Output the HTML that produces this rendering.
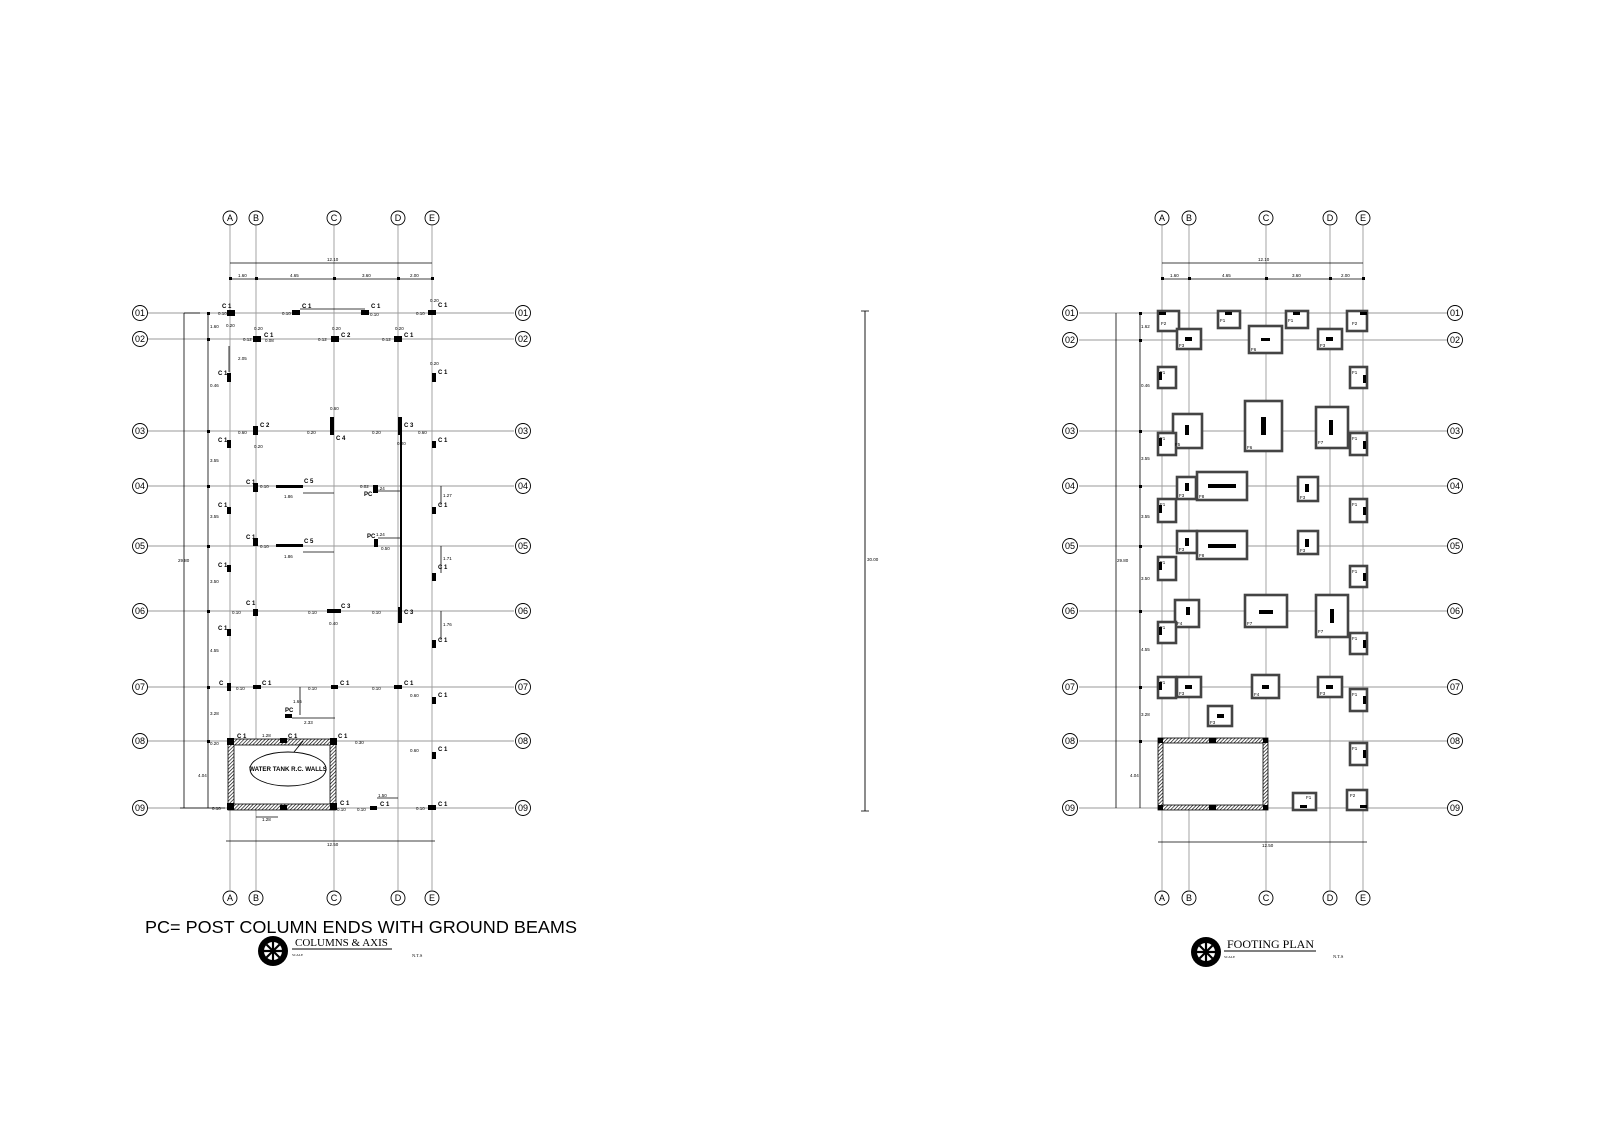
<!DOCTYPE html>
<html><head><meta charset="utf-8"><style>
html,body{margin:0;padding:0;background:#fff;}
svg{display:block;}
text{font-family:"Liberation Sans",sans-serif;}
.g{stroke:#9a9a9a;stroke-width:0.9;fill:none}
.d{stroke:#000;stroke-width:0.8;fill:none}
.ax{font-family:"Liberation Serif",serif;font-size:9px;text-anchor:middle}
.t{font-size:4.5px;fill:#000}
.c{font-size:6px;font-weight:bold;fill:#000}
.f{font-size:4.5px;fill:#000}
</style></head><body>
<svg width="1600" height="1131" viewBox="0 0 1600 1131" xmlns="http://www.w3.org/2000/svg">
<defs>
<pattern id="h" width="2.5" height="2.5" patternUnits="userSpaceOnUse" patternTransform="rotate(45)">
<rect width="2.5" height="2.5" fill="#fff"/><line x1="0" y1="0" x2="0" y2="2.5" stroke="#000" stroke-width="1.3"/></pattern>
</defs>

<!-- ================= LEFT PLAN ================= -->
<g>
<!-- vertical grid -->
<line class="g" x1="230" y1="226" x2="230" y2="890"/>
<line class="g" x1="256" y1="226" x2="256" y2="890"/>
<line class="g" x1="334" y1="226" x2="334" y2="890"/>
<line class="g" x1="398" y1="226" x2="398" y2="890"/>
<line class="g" x1="432" y1="226" x2="432" y2="890"/>
<!-- horizontal grid -->
<g class="g">
<line x1="148" y1="313" x2="514" y2="313"/><line x1="148" y1="339" x2="514" y2="339"/>
<line x1="148" y1="431" x2="514" y2="431"/><line x1="148" y1="486" x2="514" y2="486"/>
<line x1="148" y1="546" x2="514" y2="546"/><line x1="148" y1="611" x2="514" y2="611"/>
<line x1="148" y1="687" x2="514" y2="687"/><line x1="148" y1="741" x2="514" y2="741"/>
<line x1="148" y1="808" x2="514" y2="808"/>
</g>
<!-- axis circles -->
<g fill="#fff" stroke="#000" stroke-width="0.9">
<circle cx="230" cy="218" r="7"/><circle cx="256" cy="218" r="7"/><circle cx="334" cy="218" r="7"/><circle cx="398" cy="218" r="7"/><circle cx="432" cy="218" r="7"/>
<circle cx="230" cy="898" r="7"/><circle cx="256" cy="898" r="7"/><circle cx="334" cy="898" r="7"/><circle cx="398" cy="898" r="7"/><circle cx="432" cy="898" r="7"/>
</g>
<g class="ax">
<text x="230" y="221">A</text><text x="256" y="221">B</text><text x="334" y="221">C</text><text x="398" y="221">D</text><text x="432" y="221">E</text>
<text x="230" y="901">A</text><text x="256" y="901">B</text><text x="334" y="901">C</text><text x="398" y="901">D</text><text x="432" y="901">E</text>
</g>
<g fill="#fff" stroke="#000" stroke-width="0.9">
<circle cx="140" cy="313" r="7.5"/><circle cx="140" cy="339" r="7.5"/><circle cx="140" cy="431" r="7.5"/><circle cx="140" cy="486" r="7.5"/><circle cx="140" cy="546" r="7.5"/><circle cx="140" cy="611" r="7.5"/><circle cx="140" cy="687" r="7.5"/><circle cx="140" cy="741" r="7.5"/><circle cx="140" cy="808" r="7.5"/>
<circle cx="523" cy="313" r="7.5"/><circle cx="523" cy="339" r="7.5"/><circle cx="523" cy="431" r="7.5"/><circle cx="523" cy="486" r="7.5"/><circle cx="523" cy="546" r="7.5"/><circle cx="523" cy="611" r="7.5"/><circle cx="523" cy="687" r="7.5"/><circle cx="523" cy="741" r="7.5"/><circle cx="523" cy="808" r="7.5"/>
</g>
<g class="ax">
<text x="140" y="316">01</text><text x="140" y="342">02</text><text x="140" y="434">03</text><text x="140" y="489">04</text><text x="140" y="549">05</text><text x="140" y="614">06</text><text x="140" y="690">07</text><text x="140" y="744">08</text><text x="140" y="811">09</text>
<text x="523" y="316">01</text><text x="523" y="342">02</text><text x="523" y="434">03</text><text x="523" y="489">04</text><text x="523" y="549">05</text><text x="523" y="614">06</text><text x="523" y="690">07</text><text x="523" y="744">08</text><text x="523" y="811">09</text>
</g>
<!-- dimensions -->
<g class="d">
<line x1="230" y1="263" x2="432" y2="263"/>
<line x1="230" y1="279" x2="432" y2="279"/>
<line x1="184" y1="313" x2="184" y2="808"/>
<line x1="208" y1="313" x2="208" y2="808"/>
<line x1="184" y1="313" x2="200" y2="313"/><line x1="180" y1="808" x2="225" y2="808"/>
<line x1="226" y1="841" x2="435" y2="841"/>
<line x1="300" y1="309" x2="365" y2="309"/>
</g>
<g fill="#000">
<rect x="229" y="277" width="3" height="3"/><rect x="255" y="277" width="3" height="3"/><rect x="333" y="277" width="3" height="3"/><rect x="397" y="277" width="3" height="3"/><rect x="431" y="277" width="3" height="3"/>
<rect x="207" y="312" width="3" height="3"/><rect x="207" y="338" width="3" height="3"/><rect x="207" y="430" width="3" height="3"/><rect x="207" y="485" width="3" height="3"/><rect x="207" y="545" width="3" height="3"/><rect x="207" y="610" width="3" height="3"/><rect x="207" y="686" width="3" height="3"/><rect x="207" y="740" width="3" height="3"/>
</g>
<g class="t">
<text x="327" y="261">12.10</text>
<text x="238" y="277">1.60</text><text x="290" y="277">4.65</text><text x="362" y="277">3.60</text><text x="410" y="277">2.00</text>
<text x="210" y="328">1.60</text><text x="210" y="387">0.46</text><text x="210" y="462">3.55</text><text x="210" y="518">3.55</text><text x="210" y="583">3.50</text><text x="210" y="652">4.55</text><text x="210" y="715">3.28</text><text x="198" y="777">4.04</text>
<text x="178" y="562">29.80</text>
<text x="327" y="846">12.50</text>
</g>
<!-- columns -->
<g fill="#000">
<rect x="227" y="310" width="8" height="6"/><rect x="292" y="310" width="8" height="5"/><rect x="361" y="310" width="8" height="5"/><rect x="428" y="310" width="8" height="5"/>
<rect x="253" y="336" width="8" height="6"/><rect x="331" y="336" width="8" height="6"/><rect x="394" y="336" width="8" height="6"/>
<rect x="227" y="373" width="4" height="9"/><rect x="432" y="373" width="4" height="9"/>
<rect x="227" y="440" width="4" height="8"/><rect x="253" y="426" width="5" height="9"/><rect x="330" y="417" width="4" height="18"/><rect x="398" y="417" width="4" height="18"/><rect x="432" y="441" width="4" height="7"/>
<rect x="253" y="483" width="5" height="9"/><rect x="276" y="485" width="27" height="3"/><rect x="373" y="485" width="5" height="8"/><rect x="227" y="507" width="4" height="7"/><rect x="432" y="507" width="4" height="7"/>
<rect x="253" y="538" width="5" height="8"/><rect x="276" y="544" width="27" height="3"/><rect x="374" y="539" width="4" height="8"/><rect x="227" y="565" width="4" height="7"/><rect x="432" y="573" width="4" height="8"/>
<rect x="253" y="609" width="5" height="7"/><rect x="327" y="609" width="14" height="4"/><rect x="398" y="607" width="4" height="16"/><rect x="227" y="629" width="4" height="7"/><rect x="432" y="640" width="4" height="8"/>
<rect x="227" y="683" width="4" height="8"/><rect x="253" y="685" width="8" height="4"/><rect x="331" y="685" width="7" height="4"/><rect x="394" y="685" width="8" height="4"/><rect x="432" y="697" width="4" height="7"/>
<rect x="285" y="714" width="7" height="4"/><rect x="432" y="752" width="4" height="7"/>
<rect x="370" y="806" width="7" height="4"/><rect x="428" y="805" width="8" height="5"/>
<rect x="400" y="433" width="2" height="175"/>
</g>
<g class="d"><line x1="300" y1="687" x2="300" y2="715"/><line x1="292" y1="718" x2="335" y2="718"/>
<line x1="303" y1="493" x2="334" y2="493"/><line x1="303" y1="552" x2="334" y2="552"/>
<line x1="378" y1="491" x2="400" y2="491"/><line x1="378" y1="538" x2="400" y2="538"/>
<line x1="229" y1="346" x2="229" y2="372"/><line x1="441" y1="486" x2="441" y2="505"/><line x1="441" y1="546" x2="441" y2="573"/><line x1="441" y1="611" x2="441" y2="640"/>
<line x1="377" y1="798" x2="398" y2="798"/><line x1="256" y1="817" x2="278" y2="817"/></g>
<!-- column labels -->
<g class="c">
<text x="222" y="308">C 1</text><text x="302" y="308">C 1</text><text x="371" y="308">C 1</text><text x="438" y="307">C 1</text>
<text x="264" y="337">C 1</text><text x="341" y="337">C 2</text><text x="404" y="337">C 1</text>
<text x="218" y="375">C 1</text><text x="438" y="374">C 1</text>
<text x="218" y="442">C 1</text><text x="260" y="427">C 2</text><text x="336" y="440">C 4</text><text x="404" y="427">C 3</text><text x="438" y="442">C 1</text>
<text x="246" y="484">C 1</text><text x="304" y="483">C 5</text><text x="364" y="496">PC</text><text x="218" y="507">C 1</text><text x="438" y="507">C 1</text>
<text x="246" y="539">C 1</text><text x="304" y="543">C 5</text><text x="367" y="538">PC</text><text x="218" y="567">C 1</text><text x="438" y="569">C 1</text>
<text x="246" y="605">C 1</text><text x="341" y="608">C 3</text><text x="404" y="614">C 3</text><text x="218" y="630">C 1</text><text x="438" y="642">C 1</text>
<text x="219" y="685">C</text><text x="262" y="685">C 1</text><text x="340" y="685">C 1</text><text x="404" y="685">C 1</text><text x="438" y="697">C 1</text>
<text x="285" y="712">PC</text>
<text x="237" y="738">C 1</text><text x="288" y="738">C 1</text><text x="338" y="738">C 1</text><text x="438" y="751">C 1</text>
<text x="236" y="805">C 1</text><text x="288" y="805">C 1</text><text x="340" y="805">C 1</text><text x="380" y="806">C 1</text><text x="438" y="806">C 1</text>
</g>
<g class="t">
<text x="218" y="315">0.10</text><text x="282" y="315">0.10</text><text x="370" y="316">0.10</text><text x="416" y="315">0.10</text><text x="430" y="302">0.20</text>
<text x="243" y="341">0.12</text><text x="265" y="342">0.08</text><text x="318" y="341">0.12</text><text x="382" y="341">0.12</text>
<text x="226" y="327">0.20</text><text x="254" y="330">0.20</text><text x="332" y="330">0.20</text><text x="395" y="330">0.20</text><text x="430" y="365">0.20</text>
<text x="238" y="360">2.05</text><text x="307" y="434">0.20</text><text x="372" y="434">0.20</text><text x="330" y="410">0.60</text><text x="397" y="445">0.20</text>
<text x="238" y="434">0.60</text><text x="254" y="448">0.20</text><text x="418" y="434">0.60</text>
<text x="260" y="488">0.10</text><text x="284" y="498">1.86</text><text x="360" y="488">0.02</text><text x="376" y="490">1.24</text><text x="443" y="497">1.27</text>
<text x="260" y="548">0.10</text><text x="284" y="558">1.86</text><text x="376" y="536">1.24</text><text x="381" y="550">0.50</text><text x="443" y="560">1.71</text>
<text x="232" y="614">0.10</text><text x="308" y="614">0.10</text><text x="372" y="614">0.10</text><text x="329" y="625">0.40</text><text x="443" y="626">1.76</text>
<text x="236" y="690">0.10</text><text x="308" y="690">0.10</text><text x="372" y="690">0.10</text><text x="410" y="697">0.60</text>
<text x="293" y="703">1.66</text><text x="304" y="724">2.33</text>
<text x="210" y="745">0.20</text><text x="262" y="737">1.28</text><text x="355" y="744">0.30</text><text x="410" y="752">0.60</text>
<text x="212" y="810">0.10</text><text x="337" y="811">0.10</text><text x="357" y="811">0.10</text><text x="378" y="797">1.50</text><text x="416" y="810">0.10</text><text x="262" y="821">1.28</text>
</g>
<!-- water tank -->
<rect x="228" y="739" width="108" height="71" fill="url(#h)" stroke="#000" stroke-width="0.8"/>
<rect x="234" y="745" width="96" height="59" fill="#fff" stroke="#000" stroke-width="0.8"/>
<g fill="#000"><rect x="227" y="738" width="7" height="7"/><rect x="330" y="738" width="7" height="7"/><rect x="227" y="803" width="7" height="7"/><rect x="330" y="803" width="7" height="7"/><rect x="280" y="738" width="7" height="5"/><rect x="280" y="805" width="7" height="5"/></g>
<ellipse cx="288" cy="769" rx="38" ry="17" fill="#fff" stroke="#000" stroke-width="0.9"/>
<line x1="294" y1="752" x2="303" y2="741" stroke="#000" stroke-width="0.9"/>
<text x="288" y="771" style="font-size:6.2px;font-weight:bold" text-anchor="middle">WATER TANK R.C. WALLS</text>
<!-- notes -->
<text x="145" y="933" style="font-size:17.6px" textLength="432" lengthAdjust="spacingAndGlyphs">PC= POST COLUMN ENDS WITH GROUND BEAMS</text>
<g transform="translate(273,951)">
<circle r="15" fill="#000"/><circle r="9" fill="#fff"/>
<g stroke="#000" stroke-width="2.2"><line x1="-9" y1="0" x2="9" y2="0"/><line x1="0" y1="-9" x2="0" y2="9"/><line x1="-6.4" y1="-6.4" x2="6.4" y2="6.4"/><line x1="-6.4" y1="6.4" x2="6.4" y2="-6.4"/></g>
</g>
<text x="295" y="946" style="font-family:'Liberation Serif',serif;font-size:11px">COLUMNS &amp; AXIS</text>
<line x1="292" y1="949" x2="392" y2="949" stroke="#000" stroke-width="1"/>
<text x="292" y="956" style="font-family:'Liberation Serif',serif;font-size:3.5px">SCALE</text>
<text x="412" y="957" style="font-family:'Liberation Serif',serif;font-size:4.5px">N.T.S</text>
</g>

<!-- middle line -->
<line x1="865" y1="311" x2="865" y2="811" stroke="#000" stroke-width="0.9"/>
<line x1="861" y1="311" x2="869" y2="311" stroke="#000" stroke-width="0.8"/>
<line x1="861" y1="811" x2="869" y2="811" stroke="#000" stroke-width="0.8"/>
<text x="867" y="561" class="t">30.00</text>

<!-- ================= RIGHT PLAN ================= -->
<g>
<g class="g">
<line x1="1162" y1="226" x2="1162" y2="890"/><line x1="1189" y1="226" x2="1189" y2="890"/><line x1="1266" y1="226" x2="1266" y2="890"/><line x1="1330" y1="226" x2="1330" y2="890"/><line x1="1363" y1="226" x2="1363" y2="890"/>
<line x1="1079" y1="313" x2="1447" y2="313"/><line x1="1079" y1="340" x2="1447" y2="340"/>
<line x1="1079" y1="431" x2="1447" y2="431"/><line x1="1079" y1="486" x2="1447" y2="486"/>
<line x1="1079" y1="546" x2="1447" y2="546"/><line x1="1079" y1="611" x2="1447" y2="611"/>
<line x1="1079" y1="687" x2="1447" y2="687"/><line x1="1079" y1="741" x2="1447" y2="741"/>
<line x1="1079" y1="808" x2="1447" y2="808"/>
</g>
<g fill="#fff" stroke="#000" stroke-width="0.9">
<circle cx="1162" cy="218" r="7"/><circle cx="1189" cy="218" r="7"/><circle cx="1266" cy="218" r="7"/><circle cx="1330" cy="218" r="7"/><circle cx="1363" cy="218" r="7"/>
<circle cx="1162" cy="898" r="7"/><circle cx="1189" cy="898" r="7"/><circle cx="1266" cy="898" r="7"/><circle cx="1330" cy="898" r="7"/><circle cx="1363" cy="898" r="7"/>
</g>
<g class="ax">
<text x="1162" y="221">A</text><text x="1189" y="221">B</text><text x="1266" y="221">C</text><text x="1330" y="221">D</text><text x="1363" y="221">E</text>
<text x="1162" y="901">A</text><text x="1189" y="901">B</text><text x="1266" y="901">C</text><text x="1330" y="901">D</text><text x="1363" y="901">E</text>
</g>
<g fill="#fff" stroke="#000" stroke-width="0.9">
<circle cx="1070" cy="313" r="7.5"/><circle cx="1070" cy="340" r="7.5"/><circle cx="1070" cy="431" r="7.5"/><circle cx="1070" cy="486" r="7.5"/><circle cx="1070" cy="546" r="7.5"/><circle cx="1070" cy="611" r="7.5"/><circle cx="1070" cy="687" r="7.5"/><circle cx="1070" cy="741" r="7.5"/><circle cx="1070" cy="808" r="7.5"/>
<circle cx="1455" cy="313" r="7.5"/><circle cx="1455" cy="340" r="7.5"/><circle cx="1455" cy="431" r="7.5"/><circle cx="1455" cy="486" r="7.5"/><circle cx="1455" cy="546" r="7.5"/><circle cx="1455" cy="611" r="7.5"/><circle cx="1455" cy="687" r="7.5"/><circle cx="1455" cy="741" r="7.5"/><circle cx="1455" cy="808" r="7.5"/>
</g>
<g class="ax">
<text x="1070" y="316">01</text><text x="1070" y="343">02</text><text x="1070" y="434">03</text><text x="1070" y="489">04</text><text x="1070" y="549">05</text><text x="1070" y="614">06</text><text x="1070" y="690">07</text><text x="1070" y="744">08</text><text x="1070" y="811">09</text>
<text x="1455" y="316">01</text><text x="1455" y="343">02</text><text x="1455" y="434">03</text><text x="1455" y="489">04</text><text x="1455" y="549">05</text><text x="1455" y="614">06</text><text x="1455" y="690">07</text><text x="1455" y="744">08</text><text x="1455" y="811">09</text>
</g>
<g class="d">
<line x1="1162" y1="263" x2="1363" y2="263"/><line x1="1162" y1="279" x2="1363" y2="279"/>
<line x1="1116" y1="313" x2="1116" y2="808"/><line x1="1140" y1="313" x2="1140" y2="808"/>
<line x1="1158" y1="842" x2="1367" y2="842"/>
</g>
<g fill="#000">
<rect x="1161" y="277" width="3" height="3"/><rect x="1188" y="277" width="3" height="3"/><rect x="1265" y="277" width="3" height="3"/><rect x="1329" y="277" width="3" height="3"/><rect x="1362" y="277" width="3" height="3"/>
<rect x="1139" y="312" width="3" height="3"/><rect x="1139" y="339" width="3" height="3"/><rect x="1139" y="430" width="3" height="3"/><rect x="1139" y="485" width="3" height="3"/><rect x="1139" y="545" width="3" height="3"/><rect x="1139" y="610" width="3" height="3"/><rect x="1139" y="686" width="3" height="3"/><rect x="1139" y="740" width="3" height="3"/>
</g>
<g class="t">
<text x="1258" y="261">12.10</text>
<text x="1170" y="277">1.60</text><text x="1222" y="277">4.65</text><text x="1292" y="277">3.60</text><text x="1341" y="277">2.00</text>
<text x="1141" y="328">1.62</text><text x="1141" y="387">0.46</text><text x="1141" y="460">3.55</text><text x="1141" y="518">3.55</text><text x="1141" y="580">3.50</text><text x="1141" y="651">4.55</text><text x="1141" y="716">3.28</text><text x="1130" y="777">4.04</text>
<text x="1117" y="562">29.80</text>
<text x="1262" y="847">12.50</text>
</g>
<!-- footings -->
<g fill="#fff" stroke="#444" stroke-width="2.6">
<rect x="1158" y="311" width="21" height="20"/><rect x="1218" y="311" width="22" height="17"/><rect x="1286" y="311" width="22" height="17"/><rect x="1347" y="311" width="20" height="20"/>
<rect x="1177" y="329" width="24" height="20"/><rect x="1249" y="326" width="33" height="27"/><rect x="1318" y="329" width="24" height="20"/>
<rect x="1158" y="367" width="18" height="21"/><rect x="1350" y="367" width="17" height="21"/>
<rect x="1173" y="414" width="29" height="34"/><rect x="1158" y="433" width="18" height="22"/><rect x="1245" y="401" width="37" height="50"/><rect x="1316" y="407" width="32" height="41"/><rect x="1350" y="433" width="17" height="22"/>
<rect x="1177" y="477" width="19" height="22"/><rect x="1197" y="472" width="50" height="28"/><rect x="1298" y="477" width="20" height="24"/><rect x="1158" y="499" width="18" height="23"/><rect x="1350" y="499" width="17" height="23"/>
<rect x="1177" y="531" width="20" height="22"/><rect x="1197" y="531" width="50" height="28"/><rect x="1298" y="531" width="20" height="23"/><rect x="1158" y="557" width="18" height="23"/><rect x="1350" y="566" width="17" height="21"/>
<rect x="1175" y="600" width="24" height="27"/><rect x="1158" y="622" width="18" height="21"/><rect x="1245" y="595" width="42" height="32"/><rect x="1316" y="595" width="32" height="42"/><rect x="1350" y="633" width="17" height="21"/>
<rect x="1158" y="677" width="18" height="21"/><rect x="1177" y="677" width="24" height="20"/><rect x="1252" y="675" width="27" height="23"/><rect x="1318" y="677" width="24" height="20"/><rect x="1350" y="689" width="17" height="22"/>
<rect x="1208" y="706" width="24" height="20"/><rect x="1350" y="743" width="17" height="22"/>
<rect x="1293" y="793" width="23" height="17"/><rect x="1347" y="790" width="20" height="20"/>
</g>
<g fill="#000">
<rect x="1159" y="312" width="7" height="3"/><rect x="1225" y="312" width="7" height="3"/><rect x="1293" y="312" width="7" height="3"/><rect x="1360" y="312" width="7" height="3"/>
<rect x="1185" y="337" width="7" height="4"/><rect x="1261" y="338" width="9" height="3"/><rect x="1326" y="337" width="7" height="4"/>
<rect x="1159" y="372" width="3" height="8"/><rect x="1363" y="375" width="3" height="8"/>
<rect x="1185" y="425" width="4" height="10"/><rect x="1159" y="438" width="3" height="8"/><rect x="1261" y="417" width="5" height="18"/><rect x="1329" y="420" width="4" height="15"/><rect x="1363" y="441" width="3" height="8"/>
<rect x="1185" y="483" width="4" height="8"/><rect x="1208" y="484" width="28" height="4"/><rect x="1305" y="484" width="4" height="8"/><rect x="1159" y="505" width="3" height="8"/><rect x="1363" y="507" width="3" height="8"/>
<rect x="1185" y="538" width="4" height="8"/><rect x="1208" y="544" width="28" height="4"/><rect x="1305" y="539" width="4" height="8"/><rect x="1159" y="562" width="3" height="8"/><rect x="1363" y="573" width="3" height="8"/>
<rect x="1186" y="607" width="4" height="8"/><rect x="1159" y="627" width="3" height="8"/><rect x="1259" y="610" width="14" height="4"/><rect x="1330" y="609" width="4" height="14"/><rect x="1363" y="640" width="3" height="8"/>
<rect x="1159" y="682" width="3" height="8"/><rect x="1185" y="685" width="7" height="4"/><rect x="1262" y="685" width="7" height="4"/><rect x="1326" y="685" width="7" height="4"/><rect x="1363" y="696" width="3" height="8"/>
<rect x="1217" y="714" width="7" height="4"/><rect x="1363" y="750" width="3" height="8"/>
<rect x="1300" y="805" width="7" height="3"/><rect x="1360" y="805" width="7" height="3"/>
</g>
<g class="f">
<text x="1161" y="325">F2</text><text x="1220" y="322">F1</text><text x="1288" y="322">F1</text><text x="1352" y="325">F2</text>
<text x="1179" y="347">F3</text><text x="1251" y="351">F6</text><text x="1320" y="347">F3</text>
<text x="1160" y="374">F1</text><text x="1352" y="374">F1</text>
<text x="1175" y="446">F5</text><text x="1160" y="440">F1</text><text x="1247" y="449">F6</text><text x="1318" y="444">F7</text><text x="1352" y="440">F1</text>
<text x="1179" y="497">F3</text><text x="1199" y="498">F8</text><text x="1300" y="499">F3</text><text x="1160" y="506">F1</text><text x="1352" y="506">F1</text>
<text x="1179" y="551">F3</text><text x="1199" y="557">F8</text><text x="1300" y="552">F3</text><text x="1160" y="564">F1</text><text x="1352" y="573">F1</text>
<text x="1177" y="625">F4</text><text x="1160" y="629">F1</text><text x="1247" y="625">F7</text><text x="1318" y="633">F7</text><text x="1352" y="640">F1</text>
<text x="1160" y="684">F1</text><text x="1179" y="695">F3</text><text x="1254" y="696">F4</text><text x="1320" y="695">F3</text><text x="1352" y="696">F1</text>
<text x="1210" y="724">F3</text><text x="1352" y="750">F1</text>
<text x="1306" y="799">F1</text><text x="1350" y="797">F2</text>
</g>
<!-- tank -->
<rect x="1158" y="738" width="110" height="72" fill="url(#h)" stroke="#000" stroke-width="0.8"/>
<rect x="1163" y="743" width="100" height="62" fill="#fff" stroke="#000" stroke-width="0.8"/>
<g fill="#000"><rect x="1158" y="738" width="5" height="5"/><rect x="1263" y="738" width="5" height="5"/><rect x="1158" y="805" width="5" height="5"/><rect x="1263" y="805" width="5" height="5"/><rect x="1209" y="738" width="7" height="5"/><rect x="1209" y="805" width="7" height="5"/></g>
<!-- title -->
<g transform="translate(1206,952)">
<circle r="15" fill="#000"/><circle r="9" fill="#fff"/>
<g stroke="#000" stroke-width="2.2"><line x1="-9" y1="0" x2="9" y2="0"/><line x1="0" y1="-9" x2="0" y2="9"/><line x1="-6.4" y1="-6.4" x2="6.4" y2="6.4"/><line x1="-6.4" y1="6.4" x2="6.4" y2="-6.4"/></g>
</g>
<text x="1227" y="948" style="font-family:'Liberation Serif',serif;font-size:12px">FOOTING PLAN</text>
<line x1="1224" y1="951" x2="1316" y2="951" stroke="#000" stroke-width="1"/>
<text x="1224" y="958" style="font-family:'Liberation Serif',serif;font-size:3.5px">SCALE</text>
<text x="1333" y="958" style="font-family:'Liberation Serif',serif;font-size:4.5px">N.T.S</text>
</g>
</svg>
</body></html>
